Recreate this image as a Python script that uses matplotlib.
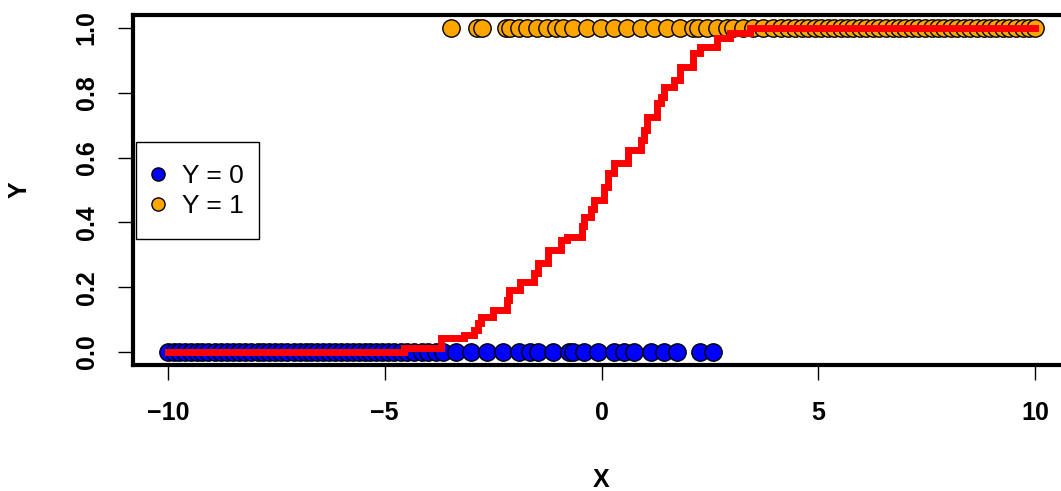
import matplotlib
matplotlib.use("Agg")
import matplotlib.pyplot as plt
from matplotlib.lines import Line2D
from matplotlib.patches import Rectangle

plt.rcParams['font.family'] = ['Liberation Sans', 'DejaVu Sans']

x_zero = [-10.0, -9.86, -9.74, -9.6, -9.47, -9.33, -9.2, -9.07, -8.92, -8.78,
          -8.63, -8.5, -8.36, -8.22, -8.07, -7.93, -7.8, -7.66, -7.52, -7.39,
          -7.25, -7.1, -6.96, -6.82, -6.7, -6.55, -6.41, -6.28, -6.14, -6.0,
          -5.86, -5.73, -5.6, -5.46, -5.33, -5.19, -5.06, -4.93, -4.78, -4.63,
          -4.48, -4.33, -4.15, -3.99, -3.82, -3.66, -3.35, -3.02, -2.63, -2.26,
          -1.91, -1.64, -1.47, -1.13, -0.76, -0.65, -0.41, -0.09, 0.28, 0.51,
          0.74, 1.13, 1.43, 1.75, 2.28, 2.58]

# x positions of the Y = 1 observations
x_one = [-3.48, -2.86, -2.75, -2.21, -2.10, -1.91, -1.71, -1.48, -1.25, -1.06,
         -0.88, -0.65, -0.33, -0.02, 0.28, 0.59, 0.90, 1.20, 1.52, 1.82,
         2.12, 2.23, 2.44, 2.67, 2.90, 3.04, 3.27, 3.50, 3.73, 3.96,
         4.14, 4.31, 4.45, 4.62, 4.76, 4.91, 5.06, 5.22, 5.36, 5.51,
         5.66, 5.8, 5.96, 6.1, 6.26, 6.4, 6.55, 6.71, 6.85, 7.0,
         7.16, 7.3, 7.45, 7.61, 7.75, 7.9, 8.06, 8.2, 8.36, 8.5,
         8.65, 8.81, 8.95, 9.1, 9.26, 9.4, 9.55, 9.71, 9.85, 10.0]

# fitted probability curve, stepwise (x where a level starts, level)
fit_x = [-10.0, -4.55, -3.7, -3.18, -2.95, -2.85, -2.79, -2.5, -2.17, -2.14,
         -1.87, -1.56, -1.47, -1.24, -0.94, -0.79, -0.45, -0.41, -0.25, -0.18,
         0.05, 0.14, 0.28, 0.6, 0.9, 0.97, 1.05, 1.29, 1.36, 1.43,
         1.66, 1.82, 2.12, 2.28, 2.67, 2.97, 3.43, 10.0]
fit_y = [0.0, 0.012, 0.042, 0.052, 0.068, 0.09, 0.109, 0.13, 0.16, 0.19,
         0.217, 0.244, 0.274, 0.315, 0.346, 0.356, 0.39, 0.418, 0.44, 0.469,
         0.51, 0.552, 0.583, 0.623, 0.654, 0.685, 0.726, 0.768, 0.788, 0.819,
         0.84, 0.88, 0.922, 0.942, 0.968, 0.983, 0.999, 1.0]

fig = plt.figure(figsize=(10.61, 4.91), dpi=100)
ax = fig.add_axes([0.1254, 0.2566, 0.8831, 0.7128])

ax.plot(x_zero, [0] * len(x_zero), 'o', color='#0000FF', markersize=12.5,
        markeredgecolor='black', markeredgewidth=1)
ax.plot(x_one, [1] * len(x_one), 'o', color='#FFA500', markersize=12.5,
        markeredgecolor='black', markeredgewidth=1)
ax.plot(fit_x, fit_y, color='#FF0000', lw=5, drawstyle='steps-post',
        solid_capstyle='projecting', solid_joinstyle='miter')

ax.set_xlim(-10.8, 10.8)
ax.set_ylim(-0.04, 1.04)
ax.set_xticks([-10, -5, 0, 5, 10])
ax.set_yticks([0, 0.2, 0.4, 0.6, 0.8, 1.0])
ax.set_yticklabels(['0.0', '0.2', '0.4', '0.6', '0.8', '1.0'],
                   rotation=90, va='center')
ax.tick_params(direction='out', length=10.8, width=1, labelsize=18)
ax.tick_params(axis='x', pad=15)
ax.tick_params(axis='y', pad=14)
for lab in ax.get_xticklabels() + ax.get_yticklabels():
    lab.set_fontweight('bold')
for sp in ax.spines.values():
    sp.set_linewidth(3)

fig.text(601 / 1061, 1 - 480 / 491, 'X', fontsize=18, fontweight='bold',
         ha='center', va='center')
fig.text(20 / 1061, 1 - 190 / 491, 'Y', fontsize=18, fontweight='bold',
         ha='center', va='center', rotation=90)

# legend box drawn separately so its padding can match
ax.add_patch(Rectangle((0.0032, 0.36), 0.1313, 0.277, transform=ax.transAxes,
                       facecolor='white', edgecolor='black', lw=1, zorder=4))
handles = [Line2D([], [], ls='none', marker='o', color='#0000FF', markersize=9.5,
                  markeredgecolor='black', markeredgewidth=1),
           Line2D([], [], ls='none', marker='o', color='#FFA500', markersize=9.5,
                  markeredgecolor='black', markeredgewidth=1)]
leg = ax.legend(handles, ['Y = 0', 'Y = 1'], loc='center left',
                bbox_to_anchor=(0.018, 0.497), fontsize=19, frameon=False,
                borderpad=0, labelspacing=0.25,
                handlelength=0.6, handletextpad=0.6, borderaxespad=0)
leg.set_zorder(5)

fig.savefig('out.png', dpi=100)
